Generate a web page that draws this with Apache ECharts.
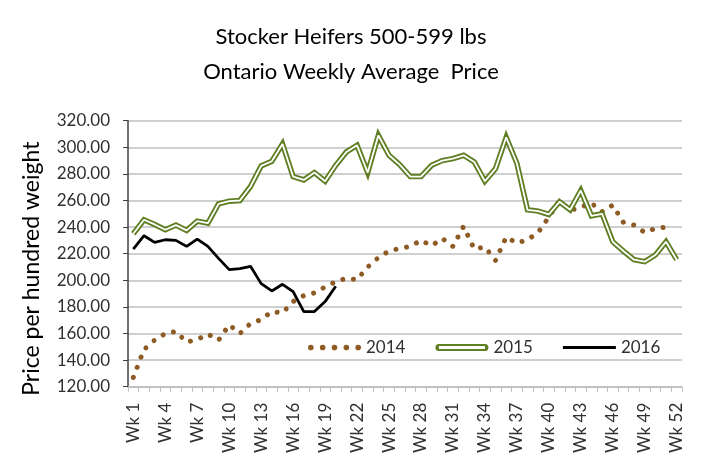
<!DOCTYPE html>
<html>
<head>
<meta charset="utf-8">
<script src="https://cdn.jsdelivr.net/npm/echarts@6/dist/echarts.min.js"></script>
<style>
  html, body { margin: 0; padding: 0; background: #fff; }
  #chart { width: 702px; height: 466px; }
</style>
</head>
<body>
<div id="chart"></div>
<script>
// week labels Wk 1 .. Wk 52
var weeks = [];
for (var i = 1; i <= 52; i++) { weeks.push('Wk ' + i); }

var yTicks = { min: 120, max: 320, step: 20 };

// weekly average price, $/cwt
var s2014 = [127, 148, 155, 160, 161.5, 153.5, 155.5, 159.5, 155, 166.5,
  160, 167.5, 170.5, 176.5, 175.5, 184, 188.5, 190.5, 195, 199,
  201.5, 200.5, 210, 217, 222, 224, 225.5, 230, 226, 231.5,
  225.5, 240.5, 223.5, 225, 215, 232.5, 228, 230.5, 236, 247.5,
  260, 252.5, 255, 258, 251.5, 256.5, 243.5, 241.5, 236, 239, 240];
var s2015 = [235, 245.5, 242, 238, 241.5, 237.5, 244.5, 243, 257.5, 259.5,
  260, 270.5, 286, 289.5, 302.5, 278, 275.5, 281, 274.5, 286.5,
  296.5, 301.5, 281, 309, 294, 287, 278, 278, 286.5, 290,
  291.5, 294, 289, 274.5, 284, 307.5, 288, 253, 252, 249.5,
  259, 253, 267.5, 248.5, 250, 229, 222, 215.5, 214, 219, 229, 215.5];
var s2016 = [223.5, 233.5, 228.5, 230.5, 230, 225.5, 231, 225.5, 216.5, 208,
  208.7, 210.5, 197.5, 192, 197, 191.5, 176.5, 176.5, 184, 195.5];

var brown = '#8e5b25';
var olive = '#5f7f24';
var font = 'Lato';

// legend icons (excel style)
var dotsIcon = 'path://M0,2.5a2.5,2.5 0 1,0 5,0a2.5,2.5 0 1,0 -5,0' +
  'M10.5,2.5a2.5,2.5 0 1,0 5,0a2.5,2.5 0 1,0 -5,0' +
  'M21,2.5a2.5,2.5 0 1,0 5,0a2.5,2.5 0 1,0 -5,0' +
  'M31.5,2.5a2.5,2.5 0 1,0 5,0a2.5,2.5 0 1,0 -5,0' +
  'M42,2.5a2.5,2.5 0 1,0 5,0a2.5,2.5 0 1,0 -5,0';
var hollowIcon = 'path://M3.5,0H49.5A3.5,3.5 0 0,1 49.5,7H3.5A3.5,3.5 0 0,1 3.5,0Z M3.5,2V5H49.5V2Z';
var lineIcon = 'path://M0,0H50V3H0Z';

var chart = echarts.init(document.getElementById('chart'));
var option = {
  animation: false,
  title: {
    text: 'Stocker Heifers 500-599 lbs\nOntario Weekly Average  Price',
    left: 'center',
    top: 14,
    textStyle: { fontFamily: font, fontSize: 22, fontWeight: 'normal', color: '#000', lineHeight: 35 }
  },
  legend: {
    left: 303,
    top: 334,
    itemWidth: 53,
    itemHeight: 7,
    itemGap: 30,
    textStyle: { fontFamily: font, fontSize: 17, color: '#303030' },
    data: [
      { name: '2014', icon: dotsIcon },
      { name: '2015', icon: hollowIcon },
      { name: '2016', icon: lineIcon }
    ]
  },
  grid: { left: 128, right: 20, top: 120.7, bottom: 79.3 },
  xAxis: {
    type: 'category',
    data: weeks,
    boundaryGap: true,
    axisLine: { lineStyle: { color: '#bfbfbf', width: 1.5 } },
    axisTick: { show: true, interval: 0, length: 5, lineStyle: { color: '#bfbfbf' } },
    axisLabel: {
      interval: 2,
      rotate: 90,
      margin: 16,
      fontFamily: font,
      fontSize: 17,
      color: '#303030'
    }
  },
  yAxis: {
    type: 'value',
    min: yTicks.min,
    max: yTicks.max,
    interval: yTicks.step,
    name: 'Price per hundred weight',
    nameLocation: 'middle',
    nameGap: 85,
    nameTextStyle: { fontFamily: font, fontSize: 23, color: '#000', padding: [0, 30, 0, 0] },
    axisLine: { show: true, lineStyle: { color: '#404040', width: 1.5 } },
    axisTick: { show: true, length: 5, lineStyle: { color: '#404040' } },
    axisLabel: {
      fontFamily: font,
      fontSize: 17,
      color: '#303030',
      margin: 18,
      formatter: function (v) { return v.toFixed(2); }
    },
    splitLine: { lineStyle: { color: '#bfbfbf', width: 1.5 } }
  },
  series: [
    {
      name: '2014',
      type: 'line',
      data: s2014,
      symbol: 'none',
      color: brown,
      lineStyle: { color: brown, width: 5, type: [0.01, 10.8], cap: 'round' },
      z: 2
    },
    {
      name: '2015',
      type: 'line',
      data: s2015,
      symbol: 'none',
      color: olive,
      lineStyle: { color: olive, width: 5.5, join: 'miter' },
      z: 3
    },
    {
      name: '2015 inner',
      type: 'line',
      data: s2015,
      symbol: 'none',
      color: '#fff',
      lineStyle: { color: '#fff', width: 1.8 },
      z: 4
    },
    {
      name: '2016',
      type: 'line',
      data: s2016,
      symbol: 'none',
      color: '#000',
      lineStyle: { color: '#000', width: 2.8 },
      z: 5
    }
  ]
};
chart.setOption(option);
</script>
</body>
</html>
